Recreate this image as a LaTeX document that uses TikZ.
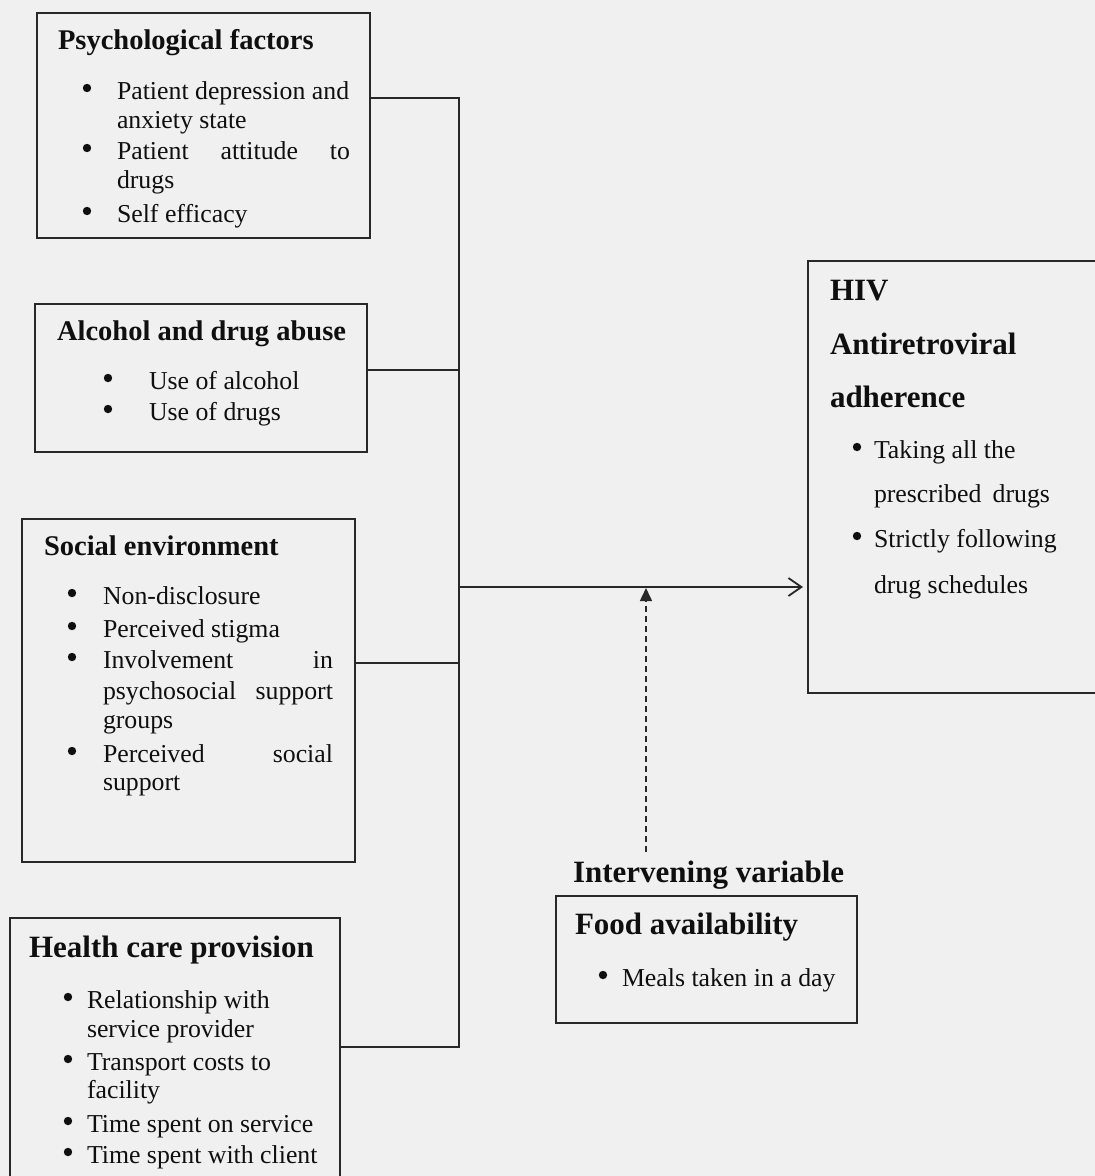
\documentclass[tikz,border=0pt]{standalone}
\usepackage{fontspec}
\setmainfont{Liberation Serif}
\usetikzlibrary{arrows.meta}
\definecolor{bgc}{RGB}{240,240,240}
\definecolor{linec}{RGB}{40,40,40}
\definecolor{txtc}{RGB}{15,15,15}
\newcommand{\bodyf}{\fontsize{25.8}{31}\selectfont}
\newcommand{\titlef}{\fontsize{28.5}{34}\selectfont\bfseries}
\newcommand{\titlebf}{\fontsize{31}{37}\selectfont\bfseries}
\newcommand{\jst}[2]{\makebox[#1pt][s]{#2}}
% bullet item: name, bullet x, text x, baseline y, text
\newcommand{\bitem}[5]{\fill[txtc] (#2,#4-11) circle (4.2pt); \node[txt] (#1) at (#3,#4) {#5};}
\tikzset{
  box/.style={draw=linec, line width=1.8pt, rectangle, inner sep=0pt, outer sep=0pt},
  txt/.style={anchor=base west, inner sep=0pt, outer sep=0pt, text=txtc, font=\bodyf},
  ttl/.style={txt, font=\titlef},
  ttlb/.style={txt, font=\titlebf},
  conn/.style={draw=linec, line width=1.8pt},
}
\begin{document}
\begin{tikzpicture}[x=1pt,y=-1pt]
\useasboundingbox (0,0) rectangle (1095,1176);
\fill[bgc] (0,0) rectangle (1095,1176);
\clip (0,0) rectangle (1095,1176);

% boxes
\node[box, minimum width=333pt, minimum height=225pt] (psy) at (203.5,125.5) {};
\node[box, minimum width=332pt, minimum height=148pt] (alc) at (201,378) {};
\node[box, minimum width=333pt, minimum height=343pt] (soc) at (188.5,690.5) {};
\node[box, minimum width=330pt, minimum height=282pt] (hcp) at (175,1059) {};
\node[box, minimum width=312pt, minimum height=432pt] (hiv) at (964,477) {};
\node[box, minimum width=301pt, minimum height=127pt] (food) at (706.5,959.5) {};

% Psychological factors
\node[ttl] (psyT) at (58,49) {Psychological factors};
\bitem{psy1}{87}{117}{99}{Patient depression and}
\node[txt] (psy1b) at (117,128) {anxiety state};
\bitem{psy2}{87}{117}{159}{\jst{233}{Patient attitude to}}
\node[txt] (psy2b) at (117,188) {drugs};
\bitem{psy3}{87}{117}{222}{Self efficacy}

% Alcohol
\node[ttl] (alcT) at (57,340) {Alcohol and drug abuse};
\bitem{alc1}{108}{149}{389}{Use of alcohol}
\bitem{alc2}{108}{149}{420}{Use of drugs}

% Social environment
\node[ttl] (socT) at (44,555) {Social environment};
\bitem{soc1}{72}{103}{604}{Non-disclosure}
\bitem{soc2}{72}{103}{637}{Perceived stigma}
\bitem{soc3}{72}{103}{668}{\jst{230}{Involvement in}}
\node[txt] (soc3b) at (103,699) {\jst{230}{psychosocial support}};
\node[txt] (soc3c) at (103,728) {groups};
\bitem{soc4}{72}{103}{762}{\jst{230}{Perceived social}}
\node[txt] (soc4b) at (103,790) {support};

% Health care provision
\node[ttlb] (hcpT) at (29,957) {Health care provision};
\bitem{hcp1}{68}{87}{1008}{Relationship with}
\node[txt] (hcp1b) at (87,1037) {service provider};
\bitem{hcp2}{68}{87}{1070}{Transport costs to}
\node[txt] (hcp2b) at (87,1098) {facility};
\bitem{hcp3}{68}{87}{1132}{Time spent on service}
\bitem{hcp4}{68}{87}{1163}{Time spent with client}

% HIV adherence
\node[ttlb] (hivT1) at (830,300) {HIV};
\node[ttlb] (hivT2) at (830,354) {Antiretroviral};
\node[ttlb] (hivT3) at (830,407) {adherence};
\bitem{hiv1}{857}{874}{458}{Taking all the}
\node[txt] (hiv1b) at (874,502) {\jst{176}{prescribed drugs}};
\bitem{hiv2}{857}{874}{547}{Strictly following}
\node[txt] (hiv2b) at (874,593) {drug schedules};

% Intervening variable / Food
\node[ttlb] (iv) at (573,882) {Intervening variable};
\node[ttlb] (foodT) at (575,934) {Food availability};
\bitem{food1}{603}{622}{986}{Meals taken in a day}

% connectors
\coordinate (jtop) at (459,98);
\coordinate (jalc) at (459,370);
\coordinate (jarr) at (459,587);
\coordinate (jsoc) at (459,663);
\coordinate (jbot) at (459,1047);
\coordinate (dbot) at (646,852);
\draw[conn] (psy.east |- jtop) -- (jtop) -- (jbot) -- (hcp.east |- jbot);
\draw[conn] (alc.east |- jalc) -- (jalc);
\draw[conn] (soc.east |- jsoc) -- (jsoc);
\draw[conn, -{Straight Barb[length=13pt,width=18pt]}, shorten >=5pt] (jarr) -- (hiv.west |- jarr);
\draw[conn, line width=1.6pt, dash pattern=on 6pt off 4pt, -{Triangle[length=13pt,width=12pt]}, shorten >=1pt] (dbot) -- (dbot |- jarr);
\end{tikzpicture}
\end{document}
